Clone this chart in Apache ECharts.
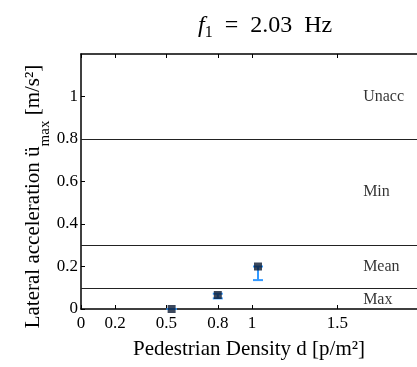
<!DOCTYPE html>
<html><head><meta charset="utf-8">
<script src="https://cdn.jsdelivr.net/npm/echarts@6/dist/echarts.min.js"></script>
<style>html,body{margin:0;padding:0;background:#fff}#c{width:417px;height:367px}</style>
</head><body><div id="c"></div>
<script>
const densities = [0.53, 0.80, 1.035];
const meanAcc = [0.0, 0.066, 0.20];
const errLow = [0.0, 0.05, 0.136];
const errHigh = [0.0, 0.072, 0.20];
const thresholds = [0.1, 0.3, 0.8];
const zoneNames = ['Unacc', 'Min', 'Mean', 'Max'];
const zoneY = [1.0, 0.55, 0.2, 0.045];
const zoneX = 1.65;
const xTicks = [0, 0.2, 0.5, 0.8, 1, 1.5];
const yTicks = [0, 0.2, 0.4, 0.6, 0.8, 1];

const serif = '"Liberation Serif", "DejaVu Serif", serif';
const chart = echarts.init(document.getElementById('c'));
chart.setOption({
  animation: false,
  title: {
    text: '{i|f}{s|1}{n|  =  2.03  Hz}',
    left: 193, top: 7,
    textStyle: {
      rich: {
        i: {fontFamily: serif, fontStyle: 'italic', fontWeight: 'normal', fontSize: 24, lineHeight: 27, color: '#000'},
        s: {fontFamily: serif, fontWeight: 'normal', fontSize: 16, lineHeight: 16, verticalAlign: 'bottom', color: '#000', padding: [0, 0, -2, 0]},
        n: {fontFamily: serif, fontWeight: 'normal', fontSize: 24, lineHeight: 27, color: '#000'}
      }
    }
  },
  grid: {left: 81, top: 54, right: 0, bottom: 58},
  xAxis: [{
    type: 'value', min: 0, max: 1.965,
    axisLine: {lineStyle: {color: '#000', width: 1.5}},
    axisTick: {inside: true, length: 4, customValues: xTicks, lineStyle: {color: '#000'}},
    axisLabel: {customValues: xTicks, fontFamily: serif, fontSize: 17, color: '#000', margin: 6},
    splitLine: {show: false},
    name: 'Pedestrian Density d [p/m²]', nameLocation: 'middle', nameGap: 30,
    nameTextStyle: {fontFamily: serif, fontSize: 21, color: '#000'}
  }, {
    type: 'value', min: 0, max: 1.965, position: 'top',
    axisLine: {show: true, lineStyle: {color: '#000', width: 1.5}},
    axisTick: {inside: true, length: 4, customValues: xTicks, lineStyle: {color: '#000'}},
    axisLabel: {show: false}, splitLine: {show: false}
  }],
  yAxis: {
    type: 'value', min: 0, max: 1.2, interval: 0.2,
    axisLine: {show: true, lineStyle: {color: '#000', width: 1.5}},
    axisTick: {inside: true, length: 4, customValues: yTicks, lineStyle: {color: '#000'}},
    axisLabel: {customValues: yTicks, fontFamily: serif, fontSize: 17, color: '#000', margin: 3},
    splitLine: {show: false},
    name: '{a|Lateral acceleration ü}{s|max}{a| [m/s²]}', nameLocation: 'middle', nameGap: 36,
    nameMoveOverlap: false,
    nameTextStyle: {
      padding: [0, 30, 0, 0],
      rich: {
        a: {fontFamily: serif, fontSize: 21, lineHeight: 24, color: '#000'},
        s: {fontFamily: serif, fontSize: 15, lineHeight: 15, verticalAlign: 'bottom', color: '#000', padding: [0, 0, -8, 0]}
      }
    }
  },
  series: [{
    type: 'line', data: [],
    markLine: {
      silent: true, symbol: 'none', label: {show: false},
      lineStyle: {color: '#222', type: 'solid', width: 1},
      data: thresholds.map(v => ({yAxis: v}))
    }
  }, {
    type: 'custom',
    renderItem: function (params, api) {
      const x = api.value(0);
      const lo = api.coord([x, api.value(1)]);
      const hi = api.coord([x, api.value(2)]);
      const w = 5;
      const st = {stroke: '#3399ff', lineWidth: 2};
      return {type: 'group', children: [
        {type: 'line', shape: {x1: lo[0], y1: lo[1], x2: hi[0], y2: hi[1]}, style: st},
        {type: 'line', shape: {x1: lo[0]-w, y1: lo[1], x2: lo[0]+w, y2: lo[1]}, style: st},
        {type: 'line', shape: {x1: hi[0]-w, y1: hi[1], x2: hi[0]+w, y2: hi[1]}, style: st}
      ]};
    },
    data: densities.map((d, i) => [d, errLow[i], errHigh[i]]),
    z: 3
  }, {
    type: 'scatter', symbol: 'rect', symbolSize: 8,
    itemStyle: {color: '#0b1a33'},
    data: densities.map((d, i) => [d, meanAcc[i]]),
    z: 4
  }, {
    type: 'scatter', symbolSize: 0,
    label: {show: true, position: 'right', distance: 0, formatter: p => zoneNames[p.dataIndex],
      fontFamily: serif, fontSize: 16, color: '#000'},
    data: zoneNames.map((n, i) => [zoneX, zoneY[i]])
  }]
});
</script></body></html>
